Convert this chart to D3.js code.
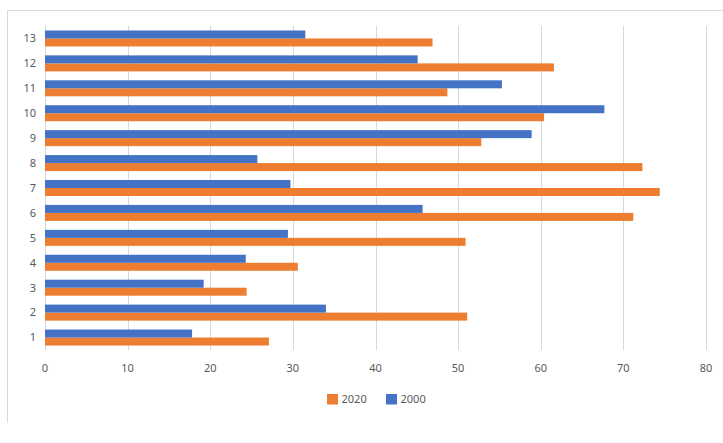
<!DOCTYPE html>
<html>
<head>
<meta charset="utf-8">
<script src="https://cdn.jsdelivr.net/npm/d3@7"></script>
<style>
  html, body { margin: 0; padding: 0; background: #fff; }
  svg { display: block; }
</style>
</head>
<body>
<svg id="chart"></svg>
<script>
// chart values
const categories = ["1", "2", "3", "4", "5", "6", "7", "8", "9", "10", "11", "12", "13"];
const seriesNames = ["2020", "2000"];
const values2020 = [27.1, 51.1, 24.4, 30.6, 50.9, 71.2, 74.4, 72.3, 52.8, 60.4, 48.7, 61.6, 46.9];
const values2000 = [17.8, 34.0, 19.2, 24.3, 29.4, 45.7, 29.7, 25.7, 58.9, 67.7, 55.3, 45.1, 31.5];
const xTicks = [0, 10, 20, 30, 40, 50, 60, 70, 80];

const colors = { "2020": "#ED7D31", "2000": "#4472C4" };

const width = 723;
const height = 443;
const font = "'Noto Sans', 'Open Sans', sans-serif";

const svg = d3.select("#chart")
    .attr("width", width)
    .attr("height", height)
    .style("font-family", font);

// chart area border (only top and left visible)
svg.append("line")
    .attr("x1", 7.5).attr("x2", width)
    .attr("y1", 10.5).attr("y2", 10.5)
    .attr("stroke", "#d9d9d9");
svg.append("line")
    .attr("x1", 7.5).attr("x2", 7.5)
    .attr("y1", 10.5).attr("y2", 423)
    .attr("stroke", "#d9d9d9");

const x = d3.scaleLinear()
    .domain([0, 80])
    .range([45, 706]);

const y = d3.scaleBand()
    .domain(categories.slice().reverse())
    .range([26, 350])
    .paddingInner(0.358)
    .paddingOuter(0.179);

// 2000 on top, 2020 under it in each group
const ySub = d3.scaleBand()
    .domain(["2000", "2020"])
    .range([0, y.bandwidth()]);

// gridlines
svg.append("g")
    .selectAll("line")
    .data(xTicks)
    .join("line")
    .attr("x1", d => Math.round(x(d)) + 0.5)
    .attr("x2", d => Math.round(x(d)) + 0.5)
    .attr("y1", 26)
    .attr("y2", 350)
    .attr("stroke", "#d9d9d9")
    .attr("stroke-width", 1);

const rows = categories.map((c, i) => ({ cat: c, "2020": values2020[i], "2000": values2000[i] }));

const group = svg.append("g")
    .selectAll("g")
    .data(rows)
    .join("g")
    .attr("transform", d => `translate(0,${y(d.cat)})`);

group.selectAll("rect")
    .data(d => seriesNames.map(s => ({ s: s, v: d[s] })))
    .join("rect")
    .attr("x", x(0))
    .attr("y", d => ySub(d.s))
    .attr("width", d => x(d.v) - x(0))
    .attr("height", ySub.bandwidth())
    .attr("fill", d => colors[d.s]);

// category labels
svg.append("g")
    .selectAll("text")
    .data(categories)
    .join("text")
    .attr("x", 36)
    .attr("y", d => y(d) + y.bandwidth() / 2)
    .attr("dy", "0.35em")
    .attr("text-anchor", "end")
    .attr("font-size", "11px")
    .attr("fill", "#595959")
    .text(d => d);

// value axis labels
svg.append("g")
    .selectAll("text")
    .data(xTicks)
    .join("text")
    .attr("x", d => x(d))
    .attr("y", 368)
    .attr("dy", "0.35em")
    .attr("text-anchor", "middle")
    .attr("font-size", "11px")
    .attr("fill", "#595959")
    .text(d => d);

// legend
const legendX = [327, 386];
const legend = svg.append("g")
    .selectAll("g")
    .data(seriesNames)
    .join("g")
    .attr("transform", (d, i) => `translate(${legendX[i]},394)`);

legend.append("rect")
    .attr("width", 11)
    .attr("height", 10.5)
    .attr("fill", d => colors[d]);

legend.append("text")
    .attr("x", 14.5)
    .attr("y", 5.5)
    .attr("dy", "0.35em")
    .attr("font-size", "11px")
    .attr("fill", "#595959")
    .text(d => d);
</script>
</body>
</html>
